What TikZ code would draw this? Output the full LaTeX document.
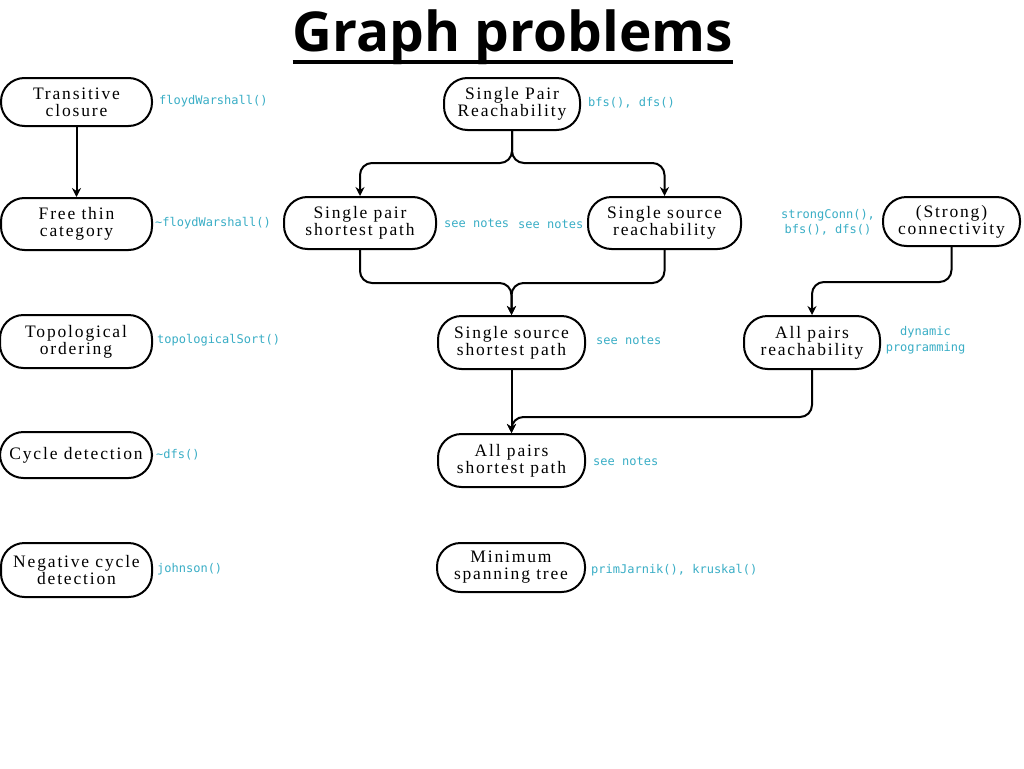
\documentclass[tikz,border=0pt]{standalone}
\usepackage{fontspec}
\usetikzlibrary{arrows.meta}
\newfontfamily\nodefont[LetterSpace=10.5]{Liberation Serif}
\newfontfamily\codefont{DejaVu Sans Mono}
\newfontfamily\titlefont{Open Sans}
\definecolor{codeteal}{RGB}{58,174,198}
\tikzset{
  x=1pt,y=-1pt,
  box/.style={draw,line width=2pt,rounded corners=23.5pt,inner sep=0pt,align=center,
    font=\nodefont\fontsize{17.5}{17}\selectfont},
  code/.style={text=codeteal,inner sep=0pt,anchor=west,align=center,
    font=\codefont\fontsize{12}{15.5}\selectfont},
  arr/.style={line width=2pt,rounded corners=12pt,-{Stealth[length=9pt,width=9pt]}}
}
\begin{document}
\begin{tikzpicture}
\useasboundingbox[fill=white] (0,0) rectangle (1024,768);
% title
\node[font=\titlefont\bfseries\fontsize{55}{60}\selectfont,inner sep=0pt,anchor=base] (title) at (513,52) {Graph problems};
\draw[line width=4pt] ([yshift=-10pt]title.base west) -- ([yshift=-10pt]title.base east);
% left column
\node[box,minimum width=151pt,minimum height=48pt] (tc) at (76.5,102) {Transitive\\closure};
\node[box,minimum width=151pt,minimum height=52pt] (ftc) at (76.5,224) {Free thin\\category};
\node[box,minimum width=152pt,minimum height=53pt] (topo) at (76,341.5) {Topological\\ordering};
\node[box,minimum width=152pt,minimum height=46pt] (cyc) at (76,455) {Cycle detection};
\node[box,minimum width=151pt,minimum height=54pt] (neg) at (76.5,570) {Negative cycle\\detection};
% middle
\node[box,minimum width=136pt,minimum height=52pt] (spr) at (512,104) {Single Pair\\Reachability};
\node[box,minimum width=152pt,minimum height=52pt] (spsp) at (360,223) {Single pair\\shortest path};
\node[box,minimum width=153pt,minimum height=52pt] (ssr) at (664.5,223) {Single source\\reachability};
\node[box,minimum width=137pt,minimum height=49pt] (sc) at (951.5,221.5) {(Strong)\\connectivity};
\node[box,minimum width=147pt,minimum height=53pt] (sssp) at (511.5,342.5) {Single source\\shortest path};
\node[box,minimum width=136pt,minimum height=53pt] (apr) at (812,342.5) {All pairs\\reachability};
\node[box,minimum width=147pt,minimum height=53pt] (apsp) at (511.5,460.5) {All pairs\\shortest path};
\node[box,minimum width=148pt,minimum height=49pt] (mst) at (511,567.5) {Minimum\\spanning tree};
% code labels
\node[code] (l1) at (159,101) {floydWarshall()};
\node[code] (l2) at (155,223) {\char`\~floydWarshall()};
\node[code] (l3) at (157,340) {topologicalSort()};
\node[code] (l4) at (156,455) {\char`\~dfs()};
\node[code] (l5) at (157,569) {johnson()};
\node[code] (l6) at (588,103) {bfs(), dfs()};
\node[code] (l7) at (444,223) {see notes};
\node[code] (l8) at (518,224) {see notes};
\node[code,anchor=center] (l9) at (828,222.5) {strongConn(),\\bfs(), dfs()};
\node[code,anchor=center] (l10) at (925.5,340) {dynamic\\programming};
\node[code] (l11) at (596,340) {see notes};
\node[code] (l12) at (593,461) {see notes};
\node[code] (l13) at (591,570) {primJarnik(), kruskal()};
% connectors
\draw[arr] (tc.south) -- (ftc.north);
\draw[arr] (spr.south) -- (spr.south |- 0,163) -- (spsp.north |- 0,163) -- (spsp.north);
\draw[arr] (spr.south) -- (spr.south |- 0,163) -- (ssr.north |- 0,163) -- (ssr.north);
\draw[arr] (spsp.south) -- (spsp.south |- 0,283) -- (sssp.north |- 0,283) -- (sssp.north);
\draw[arr] (ssr.south) -- (ssr.south |- 0,283) -- (sssp.north |- 0,283) -- (sssp.north);
\draw[arr] (sc.south) -- (sc.south |- 0,282) -- (apr.north |- 0,282) -- (apr.north);
\draw[arr] (sssp.south) -- (apsp.north);
\draw[arr] (apr.south) -- (apr.south |- 0,417) -- (apsp.north |- 0,417) -- (apsp.north);
\end{tikzpicture}
\end{document}
